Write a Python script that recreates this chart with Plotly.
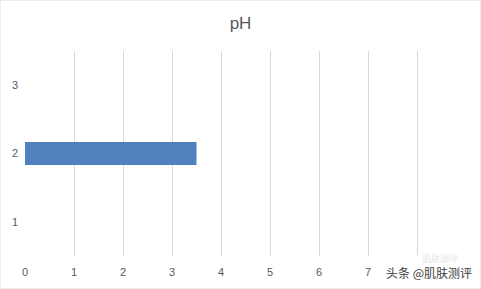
import plotly.graph_objects as go

categories = [1, 2, 3]
values = [0, 3.5, 0]
x_ticks = [0, 1, 2, 3, 4, 5, 6, 7, 8, 9]
x_tick_labels = ["0", "1", "2", "3", "4", "5", "6", "7", "", ""]
title_text = "pH"
watermark = "头条 @肌肤测评"

fig = go.Figure()
fig.add_trace(go.Bar(
    x=values, y=categories, orientation="h",
    marker=dict(color="#4F81BD", line=dict(width=0)),
    width=0.34,
))

fig.update_layout(
    width=481, height=289,
    margin=dict(l=25, r=15, t=51, b=33),
    paper_bgcolor="white", plot_bgcolor="white",
    showlegend=False,
    title=dict(text=title_text, x=0.5, xanchor="center", y=1 - 23 / 289, yanchor="middle",
               font=dict(family="Liberation Sans, Arial", size=17, color="#595959")),
    font=dict(family="Liberation Sans, Arial", size=11, color="#595959"),
    xaxis=dict(range=[0, 9], tickvals=x_ticks, ticktext=x_tick_labels,
               showgrid=True, gridcolor="#D9D9D9", gridwidth=1,
               zeroline=False, showline=False, ticks="", ticklabelstandoff=8,
               tickfont=dict(size=11, color="#595959")),
    yaxis=dict(range=[0.5, 3.5], tickvals=categories, ticktext=[str(c) for c in categories],
               showgrid=False, zeroline=False, showline=False, ticks="",
               ticklabelstandoff=6, tickfont=dict(size=11, color="#595959")),
    shapes=[dict(type="rect", xref="paper", yref="paper", x0=-25 / 441, x1=1 + 15 / 441,
                 y0=-33 / 205, y1=1 + 51 / 205, line=dict(color="#D9D9D9", width=1))],
    annotations=[
        dict(text="肌肤测评", xref="paper", yref="paper", x=(440 - 25) / 441, y=-(258 - 256) / 205,
             xanchor="center", yanchor="middle", showarrow=False,
             font=dict(family="Noto Sans CJK SC", size=9, color="#E6E6E6")),
        dict(text=watermark, xref="paper", yref="paper", x=(474 - 25) / 441, y=-(272 - 256) / 205,
             xanchor="right", yanchor="middle", showarrow=False,
             font=dict(family="Noto Sans CJK SC", size=12, color="#3C3C3C")),
    ],
)

fig.write_html("out.html")
